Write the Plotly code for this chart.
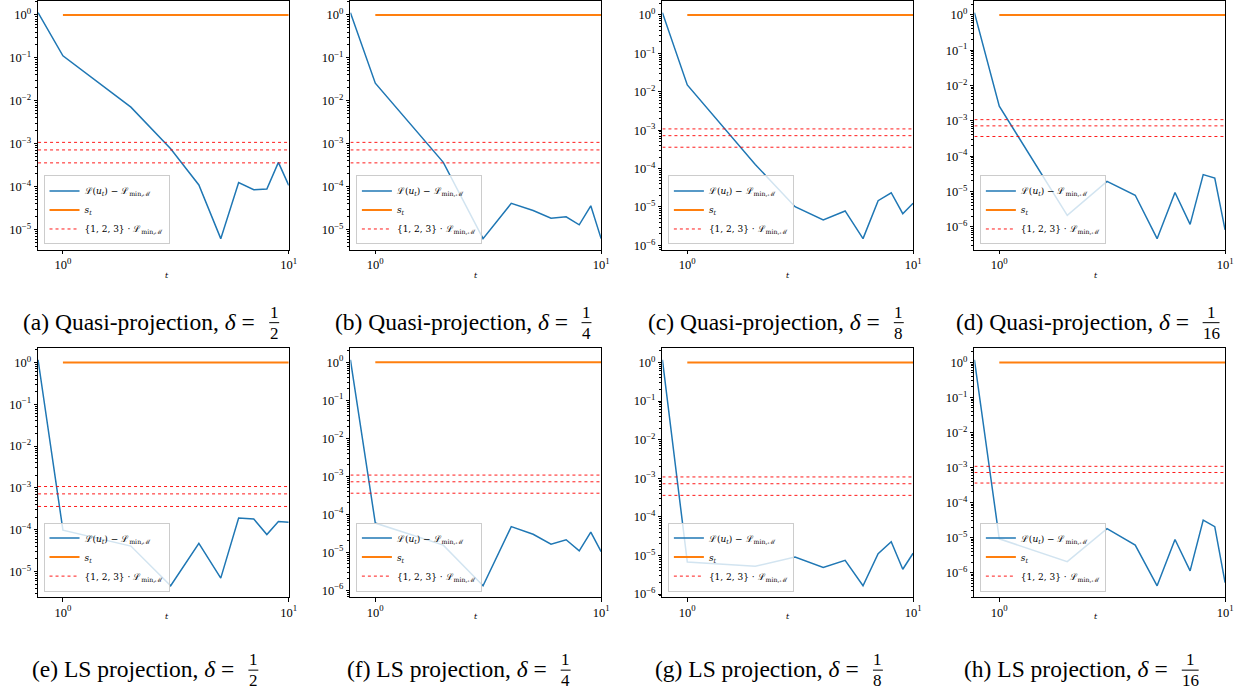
import math
import plotly.graph_objects as go

# ---------------- data ----------------
t_values = [0.776, 1, 2, 3, 4, 5, 6, 7, 8, 9, 10]
s_t_steps = [1, 2, 3, 4, 5, 6, 7, 8, 9, 10]
s_t_values = [1.0, 1.0, 1.0, 1.0, 1.0, 1.0, 1.0, 1.0, 1.0, 1.0]
L_MIN = 3.6e-4
LEVEL_MULTIPLIERS = [1, 2, 3]

loss_quasi_2 = [1.13, 0.112, 7.15e-3, 7.7e-4, 1.1e-4, 6.2e-6, 1.25e-4, 8.5e-5, 8.9e-5, 3.7e-4, 1.08e-4]
loss_quasi_4 = [1.13, 0.0257, 3.7e-4, 6.2e-6, 4.1e-5, 2.8e-5, 1.86e-5, 2.0e-5, 1.3e-5, 3.6e-5, 6.2e-6]
loss_quasi_8 = [1.15, 0.0151, 1.28e-4, 1.02e-5, 4.6e-6, 7.9e-6, 1.5e-6, 1.46e-5, 2.35e-5, 6.7e-6, 1.25e-5]
loss_quasi_16 = [1.16, 2.6e-3, 2.1e-6, 1.93e-5, 7.8e-6, 4.6e-7, 9.3e-6, 1.17e-6, 3.0e-5, 2.4e-5, 8.1e-7]
loss_ls_2 = [1.16, 9.75e-5, 4.07e-5, 4.57e-6, 4.7e-5, 6.95e-6, 1.91e-4, 1.81e-4, 7.7e-5, 1.57e-4, 1.51e-4]
loss_ls_4 = [1.17, 5.9e-5, 1.55e-5, 1.32e-6, 4.77e-5, 3.0e-5, 1.65e-5, 2.14e-5, 1.1e-5, 3.4e-5, 1.04e-5]
loss_ls_8 = [1.17, 6.8e-6, 5.25e-6, 9.1e-6, 4.9e-6, 7.5e-6, 1.64e-6, 1.11e-5, 2.26e-5, 4.4e-6, 1.14e-5]
loss_ls_16 = [1.19, 9.2e-6, 2.06e-6, 1.8e-5, 6.1e-6, 4.2e-7, 8.8e-6, 1.12e-6, 3.16e-5, 2.04e-5, 5.2e-7]

panel_letters = ["a", "b", "c", "d", "e", "f", "g", "h"]
panel_methods = ["Quasi-projection"] * 4 + ["LS projection"] * 4
delta_denominators = ["2", "4", "8", "16", "2", "4", "8", "16"]
panel_losses = [loss_quasi_2, loss_quasi_4, loss_quasi_8, loss_quasi_16,
                loss_ls_2, loss_ls_4, loss_ls_8, loss_ls_16]

NAME_LOSS = "ℒ(<i>u<sub>t</sub></i>) − ℒ<sub>min,ℳ</sub>"
NAME_S = "<i>s<sub>t</sub></i>"
NAME_LEVELS = "{1, 2, 3} · ℒ<sub>min,ℳ</sub>"

# ---------------- layout geometry (pixels) ----------------
W, H = 1247, 694
COL_LEFT = [38.3, 352.7, 666.7, 980.7]
AX_W = 252.3
ROW_TOP = [0.35, 350.0]
AX_H = 250.4
FRAC_X0 = [276.0, 255.0]
COL_STEP = 314.3
CAP_Y = [323.0, 673.0]

BLUE = "#1f77b4"
ORANGE = "#ff7f0e"
TICK_FONT = dict(family="Liberation Serif", size=12.5, color="black")


def px(x):
    return x / W


def py(y):
    return 1 - y / H


def sup(k):
    return "10<sup>%s</sup>" % (str(k).replace("-", "−"))


fig = go.Figure()
layout = dict(width=W, height=H, margin=dict(l=0, r=0, t=0, b=0),
              paper_bgcolor="white", plot_bgcolor="white", showlegend=True)
annotations = []
shapes = []

for i in range(8):
    r, c = divmod(i, 4)
    n = i + 1
    sx = "" if n == 1 else str(n)
    xa, ya = "x" + sx, "y" + sx
    leg = "legend" + sx
    loss = panel_losses[i]

    fig.add_trace(go.Scatter(x=t_values, y=loss, mode="lines", name=NAME_LOSS,
                             line=dict(color=BLUE, width=1.5),
                             xaxis=xa, yaxis=ya, legend=leg))
    fig.add_trace(go.Scatter(x=s_t_steps, y=s_t_values, mode="lines", name=NAME_S,
                             line=dict(color=ORANGE, width=2),
                             xaxis=xa, yaxis=ya, legend=leg))
    lx, ly = [], []
    for m in LEVEL_MULTIPLIERS:
        lx += [t_values[0], t_values[-1], None]
        ly += [m * L_MIN, m * L_MIN, None]
    fig.add_trace(go.Scatter(x=lx, y=ly, mode="lines", name=NAME_LEVELS,
                             line=dict(color="red", width=0.9, dash="dot"),
                             connectgaps=False,
                             xaxis=xa, yaxis=ya, legend=leg))

    # y range like matplotlib autoscale (5% margins in log space)
    logs = [math.log10(v) for v in loss + s_t_values + [m * L_MIN for m in LEVEL_MULTIPLIERS]]
    lo, hi = min(logs), max(logs)
    pad = 0.05 * (hi - lo)
    y0, y1 = lo - pad, hi + pad
    decades = list(range(math.ceil(y0), math.floor(y1) + 1))
    minor_vals = [mm * 10 ** k for k in range(math.floor(y0), math.ceil(y1) + 1)
                  for mm in range(2, 10) if y0 <= math.log10(mm * 10 ** k) <= y1]

    left = COL_LEFT[c]
    top = ROW_TOP[r]
    axis_common = dict(showline=True, mirror=True, linecolor="black", linewidth=0.9,
                       showgrid=False, zeroline=False, ticks="outside",
                       tickcolor="black", tickwidth=0.9, ticklen=3.5,
                       tickfont=TICK_FONT)
    layout["xaxis" + sx] = dict(axis_common, type="log",
                                range=[math.log10(t_values[0]), math.log10(t_values[-1])],
                                domain=[px(left), px(left + AX_W)],
                                anchor=ya, tickvals=[1, 10], ticktext=[sup(0), sup(1)])
    layout["yaxis" + sx] = dict(axis_common, type="log", range=[y0, y1],
                                domain=[py(top + AX_H), py(top)], anchor=xa,
                                tickvals=[10 ** k for k in decades],
                                ticktext=[sup(k) for k in decades],
                                minor=dict(tickvals=minor_vals, ticks="outside",
                                           ticklen=2, tickcolor="black", tickwidth=0.6))
    layout[leg] = dict(x=px(left + 5.5), y=py(top + AX_H - 5.5),
                       xanchor="left", yanchor="bottom",
                       bgcolor="rgba(255,255,255,0.8)", bordercolor="#cccccc",
                       borderwidth=1, itemwidth=30, tracegroupgap=0,
                       font=dict(family="DejaVu Serif", size=9, color="black"))

    # x-axis label
    annotations.append(dict(text="<i>t</i>", x=px(left + AX_W / 2), y=py(top + AX_H + 26),
                            xref="paper", yref="paper", showarrow=False,
                            font=dict(family="DejaVu Serif", size=8, color="black")))

    # caption with stacked fraction
    fx = FRAC_X0[r] + COL_STEP * c
    den = delta_denominators[i]
    half = 5.0 if len(den) == 1 else 8.5
    cy = CAP_Y[r]
    annotations.append(dict(text="(%s) %s, <i>δ</i> =" % (panel_letters[i], panel_methods[i]),
                            x=px(fx - half - 12), y=py(cy), xref="paper", yref="paper",
                            xanchor="right", yanchor="middle", showarrow=False,
                            font=dict(family="Liberation Serif", size=23.5, color="black")))
    annotations.append(dict(text="1", x=px(fx), y=py(cy - 9.5), xref="paper", yref="paper",
                            xanchor="center", yanchor="middle", showarrow=False,
                            font=dict(family="Liberation Serif", size=17, color="black")))
    annotations.append(dict(text=den, x=px(fx), y=py(cy + 11.5), xref="paper", yref="paper",
                            xanchor="center", yanchor="middle", showarrow=False,
                            font=dict(family="Liberation Serif", size=17, color="black")))
    shapes.append(dict(type="line", xref="paper", yref="paper",
                       x0=px(fx - half), x1=px(fx + half), y0=py(cy + 1), y1=py(cy + 1),
                       line=dict(color="black", width=1)))

layout["annotations"] = annotations
layout["shapes"] = shapes
fig.update_layout(**layout)
fig.write_html("out.html",
               config={"displayModeBar": False},
               post_script="document.body.style.margin='0';document.body.style.overflow='hidden';")
